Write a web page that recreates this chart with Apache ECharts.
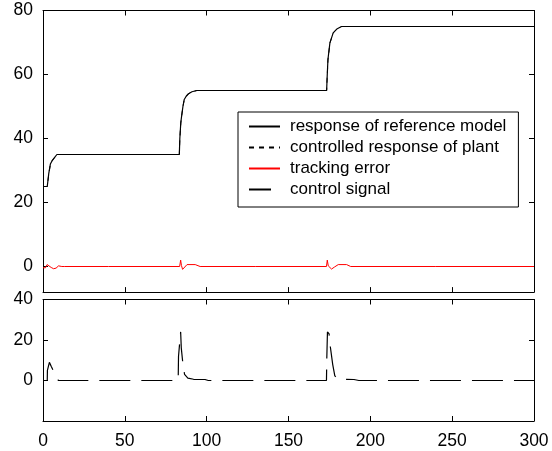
<!DOCTYPE html>
<html>
<head>
<meta charset="utf-8">
<script src="https://cdn.jsdelivr.net/npm/echarts@6/dist/echarts.min.js"></script>
<style>
html,body{margin:0;padding:0;background:#fff;}
#c{width:552px;height:451px;}
</style>
</head>
<body>
<div id="c"></div>
<script>
// ---- data ----
const xTicks = [0, 50, 100, 150, 200, 250, 300];
const topYTicks = [0, 20, 40, 60, 80];
const botYTicks = [0, 20, 40];
const legendNames = ['response of reference model', 'controlled response of plant', 'tracking error', 'control signal'];

const refT = [0, 2.6, 3.5, 4.5, 5.5, 7, 8.5, 9.5, 10.5, 83.3, 83.6, 84.2, 84.7, 85.5, 86.3, 87.5, 88.7, 91, 94, 173.3, 173.6, 174.1, 175.3, 177.3, 179.5, 182.4, 300];
const refV = [25, 25, 29, 32, 33, 34, 35, 35.4, 35, 35, 40, 45, 47, 50, 52.2, 53.2, 53.9, 54.6, 55, 55, 59, 64.7, 69.9, 73, 74.2, 75, 75];

const plantT = [0, 2.6, 3.5, 4.5, 5.5, 7, 8.5, 9.5, 10.5, 83.3, 83.6, 84.2, 84.7, 85.5, 86.3, 87.5, 88.7, 91, 94, 173.3, 173.6, 174.1, 175.3, 177.3, 179.5, 182.4, 300];
const plantV = [25, 25, 28.8, 31.9, 33, 34, 35, 35.3, 35, 35, 39.8, 44.8, 47, 50, 52.1, 53.2, 53.9, 54.6, 55, 55, 58.8, 64.5, 69.8, 73, 74.2, 75, 75];

const errT = [0, 1.5, 2.5, 3.5, 5, 6.5, 8, 9.5, 11.5, 13, 40, 83.5, 84.1, 84.6, 85.3, 86.5, 88, 93, 94, 96, 130, 173.2, 173.7, 174.3, 176.3, 178, 180.4, 185.5, 186.2, 188, 240, 300];
const errV = [-0.4, -0.4, 0.6, 0.2, -0.3, -0.7, -0.5, 0.2, 0, 0, 0, 0, 2, 0.3, -0.9, -0.3, 0.6, 0.6, 0, 0, 0, 0, 2, 0.2, -0.8, -0.2, 0.6, 0.6, 0, 0, 0, 0];

const ctrlT = [0, 2.6, 2.7, 3.9, 5, 6.5, 8, 9.4, 11, 40, 82.6, 82.8, 84.1, 84.5, 85.5, 86.5, 88.5, 92, 99, 99.5, 101, 130, 173.2, 173.4, 173.8, 174.8, 175.5, 177, 178.3, 180, 185, 190, 191, 193, 240, 300];
const ctrlV = [0, 0, 5, 9, 7, 4.5, 2, 0, 0, 0, 0, 12, 24, 16, 8, 3, 1.2, 0.6, 0.5, 0, 0, 0, 0, 11, 24, 23, 17, 8, 2.3, 1, 0.6, 0.5, 0, 0, 0, 0];

const pairs = (t, v) => t.map((x, i) => [x, v[i]]);

const FONT = "'Liberation Sans', Arial, sans-serif";
const axisLine = { show: true, onZero: false, lineStyle: { color: '#000', width: 1 } };

function xAx(grid, pos, labels) {
  return {
    type: 'value', gridIndex: grid, position: pos, min: 0, max: 300, interval: 50,
    axisLine: axisLine,
    axisTick: { show: true, inside: true, length: 5, lineStyle: { color: '#000' } },
    axisLabel: { show: labels, color: '#000', fontSize: 17.5, fontFamily: FONT, margin: 11,
      customValues: xTicks },
    splitLine: { show: false }
  };
}
function yAx(grid, pos, min, max, ticks, labels) {
  return {
    type: 'value', gridIndex: grid, position: pos, min: min, max: max,
    axisLine: axisLine,
    axisTick: { show: true, inside: true, length: 5, lineStyle: { color: '#000' }, customValues: ticks },
    axisLabel: { show: labels, color: '#000', fontSize: 17.5, fontFamily: FONT, margin: 10, customValues: ticks },
    splitLine: { show: false }
  };
}

const chart = echarts.init(document.getElementById('c'), null, { renderer: 'canvas' });
chart.setOption({
  animation: false,
  backgroundColor: '#fff',
  grid: [
    { left: 43, top: 10.5, width: 491, height: 281.6 },
    { left: 43, top: 299.5, width: 491, height: 121.5 }
  ],
  xAxis: [
    xAx(0, 'bottom', false),
    xAx(0, 'top', false),
    xAx(1, 'bottom', true),
    xAx(1, 'top', false)
  ],
  yAxis: [
    yAx(0, 'left', -8, 80, topYTicks, true),
    yAx(0, 'right', -8, 80, topYTicks, false),
    yAx(1, 'left', -20, 40, botYTicks, true),
    yAx(1, 'right', -20, 40, botYTicks, false)
  ],
  legend: {
    orient: 'vertical', left: 238, top: 112,
    itemWidth: 31, itemHeight: 14, itemGap: 4,
    padding: [6, 12, 9, 10],
    borderColor: '#000', borderWidth: 1, borderRadius: 0,
    backgroundColor: '#fff',
    itemStyle: { opacity: 0 },
    textStyle: { color: '#000', fontSize: 17, fontFamily: FONT, lineHeight: 14, padding: [0, 0, 0, 5] },
    data: [
      { name: legendNames[0] },
      { name: legendNames[1] },
      { name: legendNames[2] },
      { name: legendNames[3], lineStyle: { type: [22, 40] } }
    ]
  },
  series: [
    { name: legendNames[0], type: 'line', xAxisIndex: 0, yAxisIndex: 0, symbol: 'none',
      lineStyle: { color: '#000', width: 1.2 }, itemStyle: { color: '#000' }, data: pairs(refT, refV) },
    { name: legendNames[1], type: 'line', xAxisIndex: 0, yAxisIndex: 0, symbol: 'none',
      lineStyle: { color: '#000', width: 1, type: [5, 5] }, itemStyle: { color: '#000' }, data: pairs(plantT, plantV) },
    { name: legendNames[2], type: 'line', xAxisIndex: 0, yAxisIndex: 0, symbol: 'none',
      lineStyle: { color: '#ff0000', width: 1 }, itemStyle: { color: '#ff0000' }, data: pairs(errT, errV) },
    { name: legendNames[3], type: 'line', xAxisIndex: 2, yAxisIndex: 2, symbol: 'none',
      lineStyle: { color: '#000', width: 1.2, type: [31, 11] }, itemStyle: { color: '#000' }, data: pairs(ctrlT, ctrlV) }
  ]
});
</script>
</body>
</html>
